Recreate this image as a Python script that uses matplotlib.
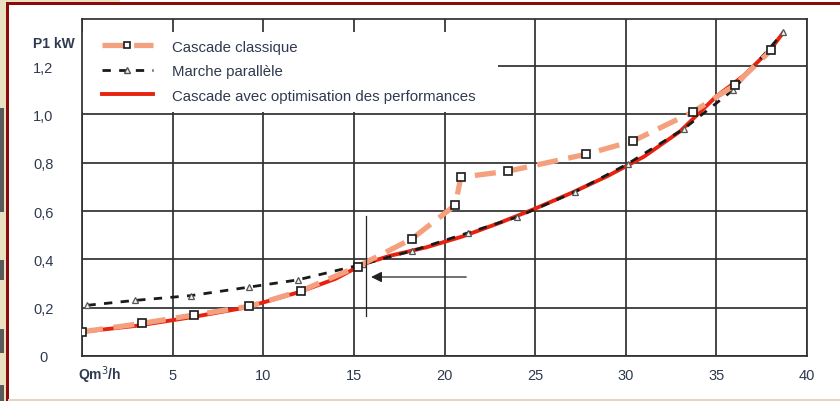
import matplotlib.pyplot as plt
from matplotlib.lines import Line2D
from matplotlib.patches import Rectangle

plt.rcParams["font.family"] = ["Liberation Sans", "DejaVu Sans"]

# Cascade classique (squares)
classic_x = [0.0, 3.3, 6.2, 9.2, 12.1, 15.2, 18.2, 20.6, 20.9, 23.5, 27.8, 30.4, 33.7, 36.0, 38.0]
classic_y = [0.10, 0.135, 0.17, 0.205, 0.27, 0.37, 0.485, 0.625, 0.74, 0.765, 0.835, 0.89, 1.01, 1.12, 1.265]

# Marche parallele (triangles)
parallel_x = [0.3, 2.9, 6.0, 9.2, 11.9, 15.5, 18.2, 21.3, 24.0, 27.2, 30.1, 33.2, 35.9, 38.7]
parallel_y = [0.21, 0.23, 0.25, 0.285, 0.315, 0.38, 0.435, 0.51, 0.575, 0.68, 0.795, 0.94, 1.10, 1.34]

# Cascade avec optimisation des performances
optim_x = [0, 3, 6, 9, 12, 14, 15.5, 17, 19, 21, 23, 25, 27, 29, 31, 33, 35, 36.5, 38, 38.7]
optim_y = [0.10, 0.125, 0.16, 0.20, 0.265, 0.32, 0.38, 0.415, 0.45, 0.495, 0.55, 0.61,
           0.675, 0.745, 0.825, 0.93, 1.075, 1.16, 1.27, 1.34]

x_ticks = [0, 5, 10, 15, 20, 25, 30, 35, 40]
x_labels = ["", "5", "10", "15", "20", "25", "30", "35", "40"]
y_ticks = [0, 0.2, 0.4, 0.6, 0.8, 1.0, 1.2]
y_labels = ["0", "0,2", "0,4", "0,6", "0,8", "1,0", "1,2"]

# marker line and arrow at the crossing point
cross_x = 15.67
cross_y = (0.166, 0.58)
arrow_y = 0.327
arrow_from, arrow_to = 21.2, 15.95

SALMON = "#f4a07e"
RED = "#e8220e"
GRID = "#303030"
TXT = "#2f3a50"

fig = plt.figure(figsize=(8.4, 4.02), dpi=100)
ax = fig.add_axes([82 / 840, 1 - 357 / 402, 725 / 840, 337 / 402])

ax.set_xlim(0, 40)
ax.set_ylim(0, 1.395)
ax.set_xticks(x_ticks)
ax.set_xticklabels(x_labels)
ax.set_yticks(y_ticks)
ax.set_yticklabels(y_labels, ha="center")
ax.tick_params(axis="both", length=0, labelsize=10.5, colors=TXT)
ax.tick_params(axis="y", pad=28)
ax.tick_params(axis="x", pad=9)
ax.set_axisbelow(True)
ax.grid(True, color=GRID, linewidth=1.25)
for s in ax.spines.values():
    s.set_color(GRID)
    s.set_linewidth(1.25)

# white area behind the legend hides the grid
ax.add_patch(Rectangle((0, 0.724), 0.574, 0.237, transform=ax.transAxes,
                       facecolor="white", edgecolor="none", zorder=1))

ax.plot(optim_x, optim_y, color=RED, linewidth=2.8, zorder=3, solid_capstyle="round")
ax.plot(parallel_x, parallel_y, color="#1a1a1a", linewidth=2.0, dashes=(3, 3), zorder=4,
        marker="^", markersize=4.5, markerfacecolor="#f2f2f2", markeredgecolor="#555555",
        markeredgewidth=0.9)
ax.plot(classic_x, classic_y, color=SALMON, linewidth=3.8, dashes=(4, 2), zorder=5,
        marker="s", markersize=5.2, markerfacecolor="white", markeredgecolor="#1a1a1a",
        markeredgewidth=1.2)

ax.plot([cross_x, cross_x], list(cross_y), color="#222222", linewidth=0.9, zorder=6)
ax.annotate("", xy=(arrow_to, arrow_y), xytext=(arrow_from, arrow_y),
            arrowprops=dict(arrowstyle="-|>", color="#222222", lw=0.9,
                            mutation_scale=16, shrinkA=0, shrinkB=0), zorder=6)

handles = [
    Line2D([], [], color=SALMON, linewidth=3.8, dashes=(4, 2), marker="s", markersize=5,
           markerfacecolor="white", markeredgecolor="#1a1a1a", markeredgewidth=1.2),
    Line2D([], [], color="#1a1a1a", linewidth=2.0, dashes=(3, 3), marker="^", markersize=4,
           markerfacecolor="#f2f2f2", markeredgecolor="#555555"),
    Line2D([], [], color=RED, linewidth=2.8),
]
labels = ["Cascade classique", "Marche parallèle", "Cascade avec optimisation des performances"]
leg = ax.legend(handles, labels, loc="upper left", bbox_to_anchor=(0.0, 0.997), frameon=False,
                fontsize=10.8, handlelength=3.4, handletextpad=1.3, labelspacing=0.7,
                borderaxespad=0.9, numpoints=1, labelcolor=TXT)
leg.set_zorder(7)

ax.text(-0.01, 0.93, "P1 kW", transform=ax.transAxes, ha="right", va="center",
        fontsize=10, fontweight="bold", color=TXT)
ax.text(-0.006, -0.055, "Qm$^{3}$/h", transform=ax.transAxes, ha="left", va="center",
        fontsize=10, fontweight="bold", color=TXT)

# page frame around the figure
fig.patches.append(Rectangle((0, 0), 6 / 840, 1, transform=fig.transFigure,
                             facecolor="#e9e1c2", edgecolor="none", zorder=0))
fig.patches.append(Rectangle((0, 1 - 3 / 402), 120 / 840, 3 / 402, transform=fig.transFigure,
                             facecolor="#e9e1c2", edgecolor="none", zorder=0))
for y0, h in [(0.47, 0.26), (0.3, 0.05), (0.12, 0.06), (0.0, 0.04)]:
    fig.patches.append(Rectangle((0, y0), 4 / 840, h, transform=fig.transFigure,
                                 facecolor="#5a5a5a", edgecolor="none", zorder=0))
fig.patches.append(Rectangle((6 / 840, 0), 2.5 / 840, 1 - 3 / 402, transform=fig.transFigure,
                             facecolor="#8b0a0a", edgecolor="none", zorder=1))
fig.patches.append(Rectangle((6 / 840, 1 - 6 / 402), 1, 3 / 402, transform=fig.transFigure,
                             facecolor="#8b0a0a", edgecolor="none", zorder=1))
fig.patches.append(Rectangle((8 / 840, 0), 1, 2 / 402, transform=fig.transFigure,
                             facecolor="#e8cfc8", edgecolor="none", zorder=1))

fig.savefig("out.png", dpi=100)
